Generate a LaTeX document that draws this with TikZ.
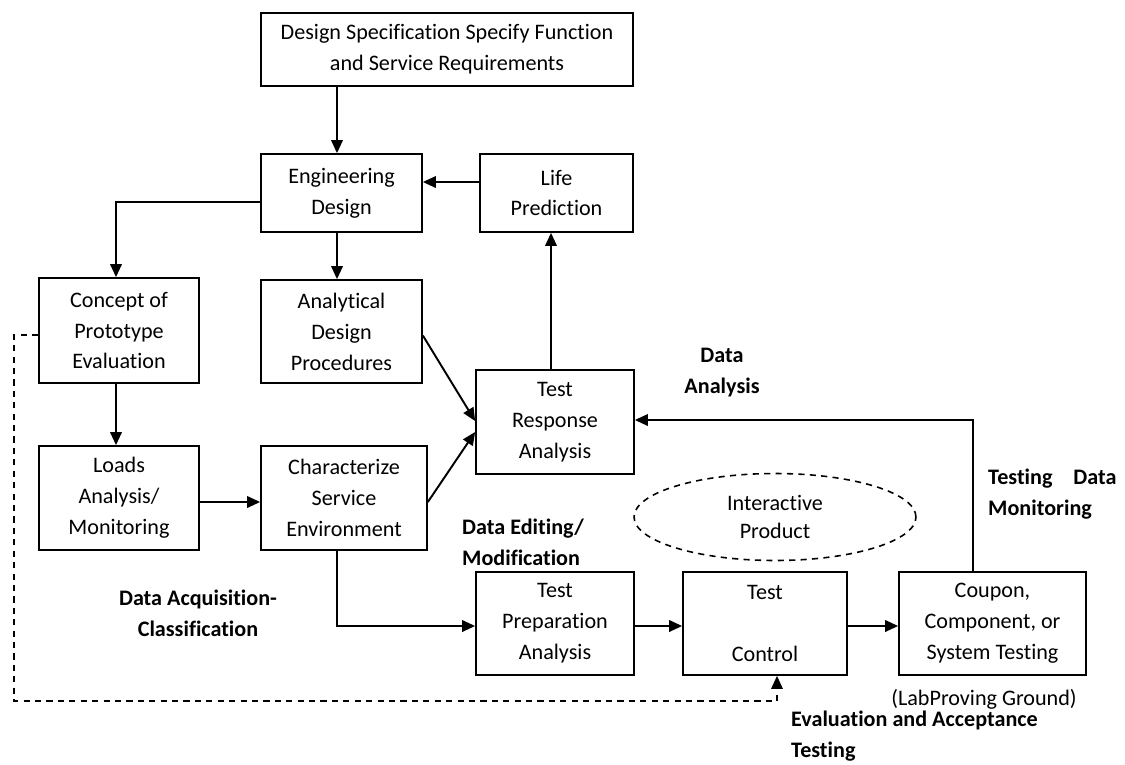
\documentclass[tikz,border=0pt]{standalone}
\usepackage{fontspec}
\setmainfont{Carlito}[Ligatures={NoCommon}]
\usepackage{tikz}
\usetikzlibrary{shapes.geometric,arrows.meta,positioning,calc}

\begin{document}
\begin{tikzpicture}[x=0.02cm,y=-0.02cm,>={Triangle[length=2.6mm,width=2.3mm]},
  box/.style={rectangle,draw,line width=1pt,align=center,inner sep=0pt,
              font=\fontsize{12.6}{17.6}\selectfont},
  lbl/.style={font=\fontsize{12.6}{17.6}\selectfont\bfseries},
  flow/.style={->,line width=1.1pt},
  dsh/.style={line width=0.9pt,dash pattern=on 3.5pt off 3pt}
]
\useasboundingbox (0,0) rectangle (1125,764);

\node[box,minimum width=7.44cm,minimum height=1.46cm] (spec)    at (447,49.5)  {Design Specification Specify Function\\and Service Requirements};
\node[box,minimum width=3.22cm,minimum height=1.56cm] (eng)     at (341.5,193) {Engineering\\Design};
\node[box,minimum width=3.06cm,minimum height=1.56cm] (life)    at (556.5,193) {Life\\Prediction};
\node[box,minimum width=3.2cm,minimum height=2.1cm]   (concept) at (119,330.5) {Concept of\\Prototype\\Evaluation};
\node[box,minimum width=3.22cm,minimum height=2.06cm] (analyt)  at (341.5,331.5) {Analytical\\Design\\Procedures};
\node[box,minimum width=3.16cm,minimum height=2.08cm] (resp)    at (555,422) {Test\\Response\\Analysis};
\node[box,minimum width=3.2cm,minimum height=2.08cm]  (loads)   at (119,498) {Loads\\Analysis/\\Monitoring};
\node[box,minimum width=3.32cm,minimum height=2.08cm] (charz)   at (344,498) {Characterize\\Service\\Environment};
\node[box,minimum width=3.16cm,minimum height=2.06cm] (prep)    at (555,623.5) {Test\\Preparation\\Analysis};
\node[box,minimum width=3.28cm,minimum height=2.06cm] (ctrl)    at (765,623.5) {Test\\~\\Control};
\node[box,minimum width=3.74cm,minimum height=2.06cm] (coupon)  at (992.5,623.5) {Coupon,\\Component, or\\System Testing};

\node[ellipse,dsh,draw,minimum width=5.64cm,minimum height=1.74cm,inner sep=0pt,
      align=center,font=\fontsize{12.6}{16}\selectfont] (inter) at (775,517) {Interactive\\Product};

% labels
\node[lbl,align=center] (danal) at (722,373) {Data\\Analysis};
\node[lbl,align=left,anchor=west] (tdmon) at (982,494) {Testing\hspace{0.42cm}Data\\Monitoring};
\node[lbl,align=left,anchor=west] (dedit) at (456,542) {Data Editing/\\Modification};
\node[lbl,align=center] (dacq) at (198,613.5) {Data Acquisition-\\Classification};
\node[font=\fontsize{12.6}{17.6}\selectfont] (lab) at (984,699) {(LabProving Ground)};
\node[lbl,align=left,anchor=west] (evacc) at (785,736) {Evaluation and Acceptance\\Testing};

% attach points
\coordinate (engin)  at ([xshift=-0.09cm]eng.north);
\coordinate (respup) at ([xshift=-0.08cm]resp.north);

% connectors
\draw[flow] (spec.south -| engin) -- (engin);
\draw[flow] ([yshift=0.22cm]life.west) -- ([yshift=0.22cm]eng.east);
\draw[flow] ([yshift=-0.18cm]eng.west) -| ([xshift=-0.06cm]concept.north);
\draw[flow] ([xshift=-0.09cm]eng.south) -- ([xshift=-0.09cm]analyt.north);
\draw[flow] ([xshift=-0.06cm]concept.south) -- ([xshift=-0.06cm]loads.north);
\draw[flow] ([yshift=-0.08cm]loads.east) -- ([yshift=-0.08cm]charz.west);
\draw[flow] ([yshift=-0.08cm]analyt.east) -- ([yshift=0.02cm]resp.west);
\draw[flow] ([yshift=-0.08cm]charz.east) -- ([yshift=-0.2cm]resp.west);
\draw[flow] (respup) -- (respup |- life.south);
\draw[flow] ([xshift=-0.39cm]coupon.north) |- ([yshift=0.04cm]resp.east);
\draw[flow] ([xshift=-0.14cm]charz.south) |- ([yshift=-0.05cm]prep.west);
\draw[flow] ([yshift=-0.05cm]prep.east) -- ([yshift=-0.05cm]ctrl.west);
\draw[flow] ([yshift=-0.05cm]ctrl.east) -- ([yshift=-0.05cm]coupon.west);
\draw[->,dsh] ([yshift=-0.09cm]concept.west) -| (14,701) -| ([xshift=0.24cm]ctrl.south);
\end{tikzpicture}
\end{document}
